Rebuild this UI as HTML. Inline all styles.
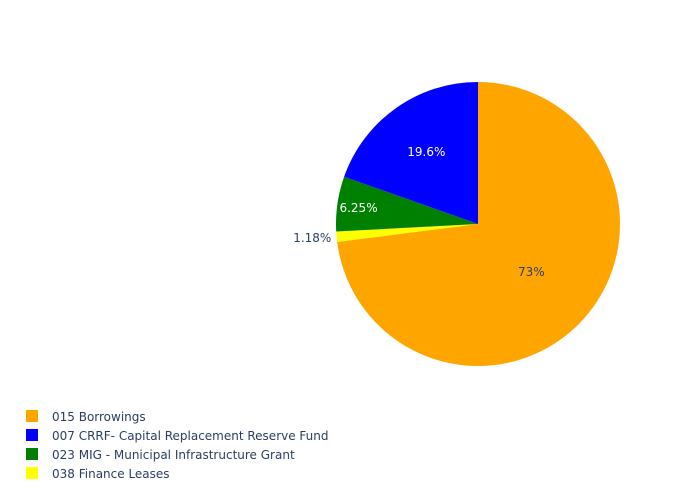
<!DOCTYPE html>
<html><head><meta charset="utf-8">
<style>
body{margin:0;background:#fff;}
svg{display:block;font-family:"DejaVu Sans","Liberation Sans",sans-serif;}
</style></head>
<body>
<svg id="chart" width="700" height="500">
<g id="slices"></g>
<g id="labels"></g>
<g id="legend"></g>
</svg>
<script>
const categories = ["015 Borrowings","038 Finance Leases","023 MIG - Municipal Infrastructure Grant","007 CRRF- Capital Replacement Reserve Fund"];
const values = [73, 1.18, 6.25, 19.6];
const labelsText = ["73%","1.18%","6.25%","19.6%"];
const legendOrder = [0,3,2,1];
const colors = ["#FFA500","#FFFF00","#008000","#0000FF"];
const labelR = [0.5, 1.03, 0.85, 0.63];
const labelFill = ["#2a3f5f","#2a3f5f","#ffffff","#ffffff"];
const cx=478, cy=224, R=142;
const NS="http://www.w3.org/2000/svg";
const total = values.reduce((a,b)=>a+b,0);
const sG=document.getElementById('slices'), lG=document.getElementById('labels'), gG=document.getElementById('legend');
function pt(a,r){return [cx+Math.sin(a)*r, cy-Math.cos(a)*r];}
let acc=0;
values.forEach((v,i)=>{
  const a0=acc/total*2*Math.PI; acc+=v; const a1=acc/total*2*Math.PI;
  const p0=pt(a0,R), p1=pt(a1,R);
  const large=(a1-a0)>Math.PI?1:0;
  const path=document.createElementNS(NS,'path');
  path.setAttribute('d',`M${cx},${cy}L${p0[0]},${p0[1]}A${R},${R} 0 ${large} 1 ${p1[0]},${p1[1]}Z`);
  path.setAttribute('fill',colors[i]);
  
  
  sG.appendChild(path);
  const am=(a0+a1)/2, lp=pt(am,R*labelR[i]);
  const t=document.createElementNS(NS,'text');
  t.setAttribute('x',labelR[i]>1?lp[0]-1:lp[0]);
  t.setAttribute('y',lp[1]+5);
  t.setAttribute('text-anchor',labelR[i]>1?'end':'middle');
  t.setAttribute('font-size','12');
  t.setAttribute('fill',labelFill[i]);
  t.textContent=labelsText[i];
  
  
  lG.appendChild(t);
});
legendOrder.forEach((idx,k)=>{
  const y=416+k*19;
  const r=document.createElementNS(NS,'rect');
  r.setAttribute('x',26);r.setAttribute('y',y-6);r.setAttribute('width',12);r.setAttribute('height',12);
  r.setAttribute('fill',colors[idx]);
  
  
  gG.appendChild(r);
  const t=document.createElementNS(NS,'text');
  t.setAttribute('x',52);t.setAttribute('y',y+5);t.setAttribute('font-size','12');t.setAttribute('fill','#2a3f5f');
  t.textContent=categories[idx];
  
  
  gG.appendChild(t);
});
</script>
</body></html>
